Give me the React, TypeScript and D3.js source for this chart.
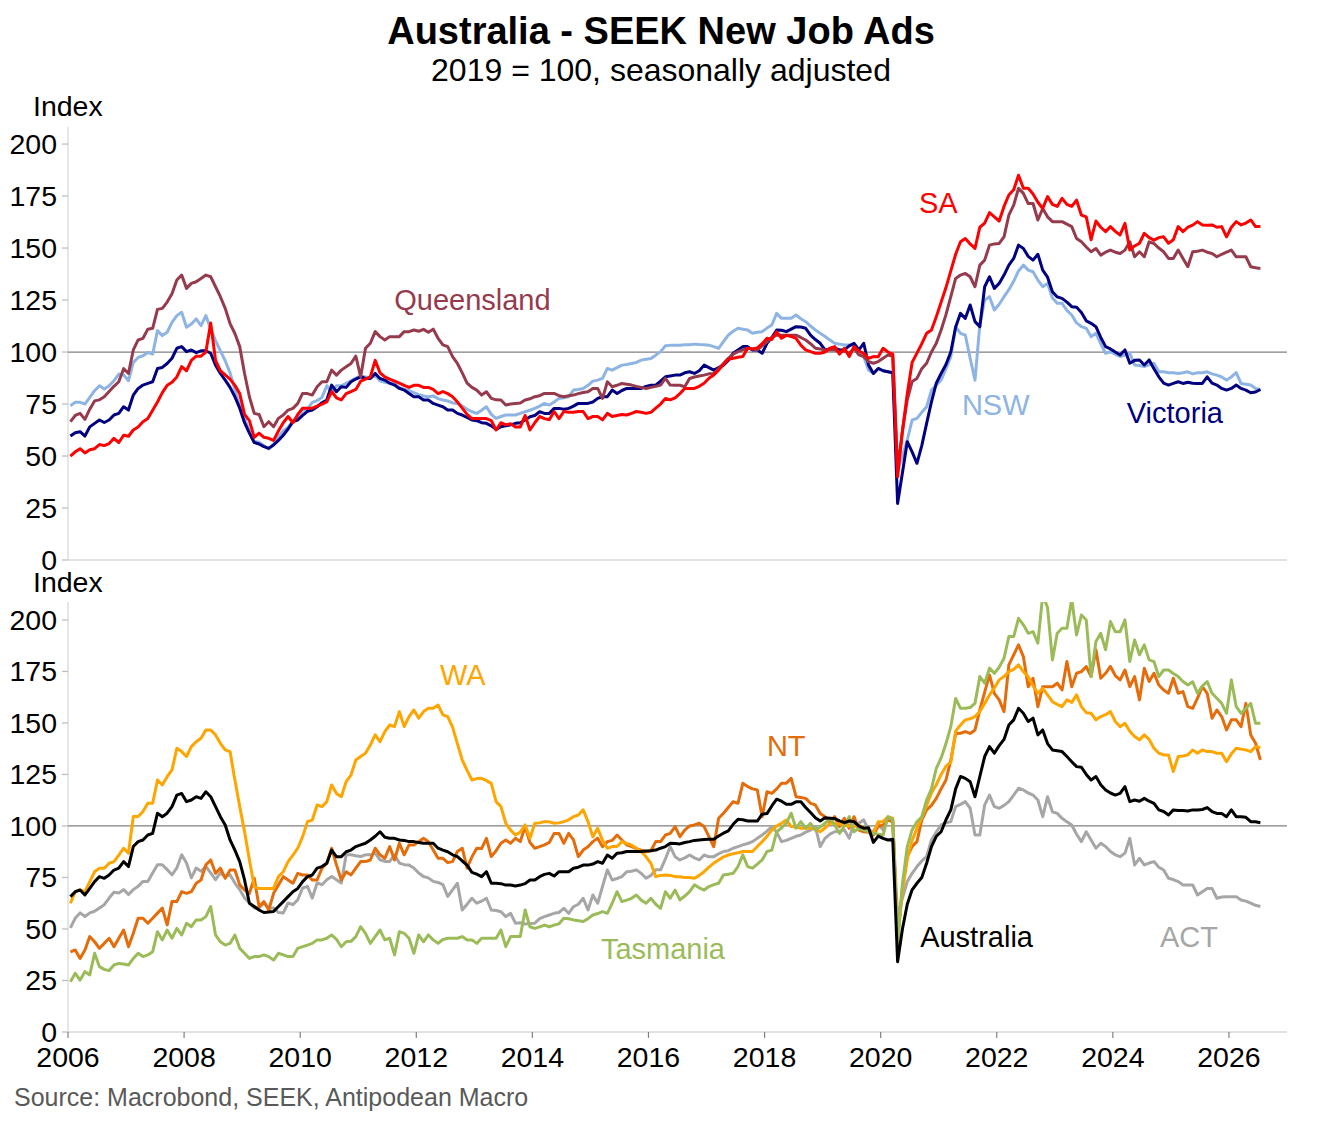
import React from 'react';
import * as d3 from 'd3';

// monthly values, Jan 2006 .. Jul 2026 (index 2019 = 100, s.a.)
const sa = [
  50, 52, 53.5, 51.5, 53, 53.5, 55.5, 55, 56, 58.5, 56.5, 60,
  59.5, 62.5, 64, 66.5, 68, 72, 76, 80.5, 84, 85.5, 88, 93,
  91, 96, 98, 98, 100, 114, 96, 91, 89, 87, 84, 80,
  70, 67, 59, 61, 59, 58.5, 57.5, 62, 66, 69, 66, 70,
  73, 73, 73, 74, 75, 76, 81, 78, 77, 80, 81, 82,
  86, 87, 88, 96, 90, 88, 87, 86, 85, 84, 83, 84,
  84, 83, 83, 82, 80, 81, 80, 78.5, 76, 73, 70, 68,
  68, 68, 68, 67, 62.5, 66, 65, 65.5, 64, 64, 69.5, 62.5,
  66, 69, 68, 67.4, 71.4, 68, 71.4, 71, 71, 71.4, 71.4, 68,
  69, 69, 67.4, 70.5, 69, 69.5, 70, 69.7, 70.5, 71.4, 71, 70.5,
  71, 73, 75, 77.7, 77, 78, 80, 82.5, 82.5, 82.5, 83.5, 85,
  87.4, 89, 91.3, 94, 96.5, 97, 97.5, 97.8, 101.8, 101.5, 102, 104,
  106.6, 106, 109.7, 106.6, 108, 107.5, 106.6, 103.3, 101, 100.2, 99.4, 99.4,
  100, 101.8, 102.6, 99, 101.8, 97.8, 102.6, 100.5, 99.4, 97, 97.8, 97.7,
  101.8, 100, 99, 40, 62, 80, 95, 99.5, 104, 109, 110.6, 117,
  124, 131, 139, 147, 153, 154.6, 152, 149.8, 160, 162, 167, 165,
  163, 170, 175.5, 178, 185, 178.7, 178.7, 176, 172, 169, 174.7, 171,
  170, 173.9, 171, 170, 173, 165.8, 165, 154, 163, 160, 157.9, 160.3,
  158, 156.3, 161.9, 149.1, 151, 152.3, 157.1, 155, 153.8, 155, 155.4, 152.3,
  154, 160.3, 157.9, 160, 161, 162.7, 161.1, 161, 161.1, 160, 160.3, 155.4,
  160, 162.7, 161.1, 162, 163.5, 160.3, 160.3,
];

const queensland = [
  66.5, 69.5, 70.5, 67.6, 72.5, 76.5, 77, 78.5, 81, 83.5, 85.7, 92,
  89.7, 101, 105.8, 106.6, 111, 111.4, 120.5, 121, 124, 128, 134.6, 137,
  130.6, 133, 133.8, 135.4, 137, 136.2, 131.4, 126.6, 121, 113.7, 108.9, 102.6,
  89.7, 78.5, 70.5, 70, 64.1, 66.5, 64.1, 68.1, 69.7, 72.1, 72.9, 75.3,
  80.1, 80, 79.3, 83.3, 85.7, 85.7, 91.3, 88.9, 91.3, 92.9, 94.5, 98,
  88.1, 101.8, 104.2, 109.8, 107.4, 105.8, 107.4, 107.4, 107.4, 109.8, 109.8, 110.6,
  110, 110.9, 109.5, 111, 106.6, 103.4, 102.6, 97.8, 94.5, 90, 85, 83,
  81.7, 79.3, 80.9, 77.7, 77, 76.9, 74.5, 75, 75.3, 75.5, 76.9, 77.5,
  78.5, 79, 80.1, 80, 80.1, 79, 78.5, 79, 79.3, 80, 80.5, 80.9,
  82.5, 82.5, 77.7, 85.7, 83.3, 84, 84.9, 84.5, 84.1, 83.5, 83, 82.5,
  83, 83.5, 84.1, 87.3, 84.1, 84, 84, 83.3, 87.3, 88, 88.5, 88.9,
  89.5, 89.7, 92, 94.5, 97, 99, 100.2, 101, 101.8, 101.5, 101, 103,
  104.9, 107, 108.1, 108.1, 108.1, 108.1, 108.1, 107, 105.8, 104, 101.8, 101.5,
  101, 101, 101, 100, 100.5, 99.4, 101.7, 98.6, 97.8, 95.4, 94.6, 95.4,
  97, 98.6, 98, 44, 62, 77, 85.8, 87.3, 92, 94.6, 100, 104.2,
  110.6, 118, 126.6, 135.4, 137, 137.8, 136.2, 131.4, 141.8, 144.2, 151.4, 152,
  152.2, 155.4, 165.8, 170.6, 178.7, 176.3, 171.4, 171.4, 163.5, 169, 165, 162.7,
  162.7, 162.7, 161.5, 160.3, 154.6, 153, 150.5, 148.2, 149.8, 146.6, 148, 149,
  148, 147.4, 149, 153, 145.8, 148.2, 145.8, 153, 152.2, 150, 148.2, 145,
  145, 149, 145, 141, 148.2, 148.5, 149, 148, 147.4, 145.8, 147, 148,
  149, 145.8, 145.8, 145.8, 141, 140.5, 140.2,
];

const victoria = [
  59.6, 61.2, 61.7, 59.6, 64, 65.7, 67.3, 66.1, 67.3, 69.7, 70.5, 73.7,
  72.1, 79.3, 82.5, 84.1, 84.9, 85.7, 92.1, 92.6, 94.5, 97, 101.8, 102.6,
  100.2, 101, 99.7, 100.6, 100.6, 99.4, 93.7, 89.7, 86.5, 83, 78.5, 73,
  66, 61, 56.5, 55.8, 54.5, 53.7, 55.3, 57.5, 60, 63, 66.5, 67.3,
  69.5, 71.5, 72.1, 73.7, 75.6, 76.9, 84.1, 80.9, 83.3, 83, 85.7, 87,
  88.1, 87.3, 87.3, 89.7, 87.3, 86.5, 85, 84.1, 82.5, 81.7, 80.1, 78.5,
  78.5, 76.9, 76.9, 75.3, 74.5, 73.7, 72.1, 72.1, 70.5, 69.7, 68.5, 67.3,
  67, 66, 65.7, 64.5, 62.8, 64.1, 64.5, 65, 65.7, 66, 67.3, 68.9,
  69.5, 71.3, 70.5, 70.5, 72.9, 72.9, 72.5, 72.9, 74, 75.3, 75.3, 75.3,
  76, 77.7, 78.5, 78.5, 81.7, 80.1, 81.5, 82.5, 82.5, 82.5, 82.5, 83.5,
  84, 84.1, 86, 88.1, 88.5, 88.9, 88.9, 90, 90.5, 89.7, 91, 93.7,
  92.5, 91.3, 92.5, 93.7, 96, 99.4, 101, 102.6, 102.6, 101, 101, 99.4,
  104.2, 107, 110.6, 110.5, 109.8, 111, 112.2, 112, 111.4, 108.1, 106, 104.2,
  101, 101.5, 101.8, 101, 101, 103, 104.2, 101, 104.2, 93.7, 89.7, 92.1,
  91, 90.5, 90, 27.2, 42, 56.9, 52, 46.5, 55, 65.7, 76, 85,
  89.7, 94, 100, 112, 118.6, 116.2, 122.6, 114.6, 112.2, 131.4, 136.2, 130.6,
  133, 137, 141.8, 145, 151.4, 149.8, 146, 144.2, 147, 139.4, 136, 129,
  126.5, 125.8, 124, 121.8, 121.5, 119, 115, 113.8, 112.2, 107, 102.6, 101.5,
  100, 98.6, 101, 94.6, 96, 96.2, 93.8, 96.2, 92, 88.1, 85, 84.1,
  84.9, 85.7, 84.9, 85.5, 85, 84.9, 84.9, 88.1, 85, 84.1, 82.5, 81.7,
  82.5, 84.1, 82.5, 81.7, 80.4, 80.8, 82,
];

const nsw = [
  74.2, 75.8, 75.8, 75, 78.2, 81.4, 83.8, 82.2, 83.8, 86.2, 89.4, 89,
  86.2, 95, 97.4, 98.2, 99.8, 99, 110.3, 107.9, 109.5, 114.3, 117.5, 119.1,
  111.9, 113.5, 115.9, 112.7, 117.5, 111.1, 105.5, 100.6, 95.8, 90, 82, 74,
  68, 62, 57, 56.6, 55, 53.4, 55.8, 59, 62.2, 63.8, 67, 68.6,
  71.8, 72.6, 75.8, 76.6, 78.2, 83.8, 80.6, 83.8, 83.8, 85, 86.2, 87.5,
  88.6, 88, 87.8, 88.6, 86.2, 85.4, 85, 84.6, 83, 82.2, 81.4, 80.5,
  79.5, 78.9, 78.5, 78.9, 77.6, 76.9, 76.5, 75.5, 75.3, 74, 72.5, 71.3,
  70.5, 72, 73.7, 70, 68.1, 69, 69.7, 69.7, 69.7, 70.5, 71.3, 72,
  72.9, 74, 75.3, 74.5, 76, 77.7, 78, 78.5, 81.7, 82, 82.5, 84,
  86, 86.5, 87.3, 92.1, 91.3, 92.5, 93.7, 94, 94.5, 95, 96.1, 96.5,
  96.9, 98.5, 100.2, 103, 103.2, 103.3, 103.3, 103.5, 103.5, 103.8, 103.6, 103.5,
  103.3, 102.6, 101.8, 105, 108.1, 110, 111.4, 111, 110.6, 109, 109.5, 109.8,
  111.5, 113, 118.6, 116.2, 116.2, 116.2, 117.8, 116, 114.6, 112.5, 110.6, 109,
  107.5, 105.8, 104.2, 103.8, 103.4, 103.4, 102.6, 100.2, 97.8, 91.3, 89.7, 92.1,
  91, 90.5, 90, 43, 50, 57.7, 67.3, 68.1, 71, 73.7, 81.7, 84,
  86.5, 92, 97.8, 112.2, 109, 108.1, 97, 86.5, 113, 125, 126.6, 120.2,
  123, 126.6, 130, 134, 139, 141.8, 139.4, 138.6, 134.6, 131.4, 133, 126,
  123.4, 123.4, 120, 117.8, 114, 112.2, 111.4, 107.4, 109, 104, 99.4, 100.2,
  99, 97.8, 98.5, 99.4, 93.8, 93.5, 93, 93.8, 94.6, 90.5, 90.5, 90,
  90, 89.7, 90, 90.5, 89.5, 90, 90, 90.5, 89.5, 88.9, 88, 86.5,
  88, 90.1, 84.9, 84.5, 84.1, 82.5, 82,
];

const wa = [
  62.5, 68.1, 68.9, 68.1, 73, 77.8, 79.5, 79.5, 81.9, 82.7, 85.9, 89.2,
  86.8, 104.6, 104.6, 107, 111, 111, 122.3, 119.9, 123.9, 127.2, 137.7, 136.1,
  133.7, 138.5, 140.9, 142.6, 146.6, 146.6, 144.2, 140.1, 136.9, 136.1, 122.3, 109.4,
  97.2, 83.5, 70.6, 69.7, 69.7, 69.7, 69.7, 75.4, 77.8, 82.7, 85.9, 89.2,
  94.8, 102.1, 102.9, 110.2, 109.4, 111.8, 119.9, 115.8, 114.2, 121.5, 124.7, 132,
  133.7, 135.3, 139.3, 144.2, 140.9, 145.8, 149, 148.2, 155.5, 148.2, 153.1, 156.3,
  152.3, 155.5, 157.1, 157.1, 158.7, 153.9, 153.1, 148, 140, 132, 127, 122.3,
  123, 123.1, 122, 120.7, 111.8, 109.4, 101.3, 98, 95.6, 97, 100.5, 94,
  101.3, 101.5, 102.1, 102, 101.3, 101.5, 102.1, 103, 104.5, 105.3, 107.8, 102.1,
  94.8, 98.9, 93, 89.2, 90, 90, 92.4, 91.5, 90.8, 89.2, 87.6, 85,
  81.9, 75.4, 76, 76.2, 76, 75.4, 75.4, 75, 75, 74.6, 76, 77.8,
  80, 82, 83.5, 85, 85.9, 86.5, 87, 87.6, 87.6, 87.6, 90, 92.4,
  95, 98, 100, 101.3, 102.9, 99.7, 99.5, 98.9, 99, 98.9, 98.5, 97.2,
  99, 101.3, 101.3, 101, 100.5, 100, 99.7, 100.5, 99, 97, 96.4, 102,
  102.1, 104.5, 103.7, 45, 68, 84, 93, 98.9, 104, 110, 116, 120,
  125, 129, 131, 146, 149, 151.5, 152, 153.1, 155.5, 159.5, 163.6, 167,
  170.9, 172.5, 174.9, 176, 178.2, 174.9, 172.5, 168, 164.4, 166.8, 163.6, 160.3,
  159, 157.9, 161.2, 160, 163.6, 157.9, 155, 154.7, 151.5, 153.1, 154, 155.5,
  150.7, 148.2, 149.8, 146, 143.4, 141.8, 144.2, 142, 137.7, 135.3, 134.5, 134.5,
  126.4, 133.7, 134, 134.5, 136.9, 135.3, 136.9, 136.1, 136.1, 135.3, 135.3, 131.2,
  135, 137.7, 137.3, 136.9, 136.1, 138.5, 138,
];

const nt = [
  38.9, 39.8, 35.7, 39.8, 46.3, 43.8, 40.6, 43, 45.5, 41.4, 45.5, 49.5,
  41.4, 47.9, 55.2, 55.2, 52.8, 55.2, 57.7, 60.1, 52, 63.3, 63.3, 68.1,
  67.3, 68.1, 72.2, 73.8, 81.1, 83.5, 77, 79.5, 74.6, 78.6, 78.6, 71.4,
  68.9, 67.3, 74.6, 60.9, 63.3, 59.2, 67.3, 71.4, 75.4, 73.8, 72.2, 77,
  76.2, 76.2, 73.8, 73.8, 79.5, 81.9, 89.2, 81.1, 73.8, 77.8, 76.2, 79.5,
  82.7, 82.7, 83.5, 89.2, 86, 84.3, 90, 83.5, 91.6, 86, 90.8, 90.8,
  92.4, 94, 92.4, 88.3, 84.3, 84.3, 82.2, 82.7, 87.6, 89.2, 79.5, 85,
  89.2, 89, 94, 85.1, 88, 91.6, 93.2, 91.6, 94, 92.4, 99.7, 92,
  89.2, 90, 90.8, 92, 96.4, 96.4, 91.6, 96.4, 93.2, 85.1, 88.3, 89.9,
  92.4, 94, 89.9, 92.4, 93, 95.6, 93.2, 90.8, 90, 89, 88.3, 87.5,
  88, 92.4, 92.4, 95.6, 96.4, 99.7, 94.8, 98, 100, 100.5, 101.3, 99.7,
  94.8, 89.9, 103.7, 106.2, 109, 111.8, 111, 120.7, 119.1, 118, 117.5, 104.5,
  116.6, 115.8, 118, 120.7, 120.7, 123.1, 114.2, 113.8, 113.4, 111, 110.2, 106,
  104.5, 101.3, 104.5, 99.7, 103.7, 98.9, 104.5, 98, 97.2, 97, 95.6, 99.7,
  100.5, 102.9, 102, 45, 70, 85.1, 90, 92.4, 102.9, 107.8, 110, 113.4,
  118, 122.3, 132, 144.9, 145, 145.8, 144.9, 146.6, 156.3, 165, 173.3, 164.4,
  161.2, 155.5, 178.2, 183, 187.9, 182.2, 167.6, 171.7, 157.9, 167.6, 167.6, 167.6,
  169.3, 166, 179.8, 167.6, 174.1, 174.9, 177.4, 172.5, 185.5, 171.7, 174.1, 177.4,
  173, 170.9, 175.7, 167.6, 172.5, 161.2, 176.6, 170.1, 174.1, 168.4, 166, 164.4,
  171.7, 164.4, 165.2, 157.9, 157.1, 162, 167.6, 164.4, 152.3, 156.3, 153.1, 146.6,
  151.5, 151.5, 148.2, 159.5, 144.2, 140.1, 132,
];

const act = [
  50.5, 55.3, 57.8, 56.1, 57.8, 58.6, 60.2, 61.8, 65, 67.8, 67.5, 69.1,
  66.7, 69.1, 70.7, 73.1, 73.1, 77.2, 81.2, 81.2, 78.8, 76.3, 79.6, 86,
  82, 74.8, 79.6, 78, 80.4, 77.2, 73.9, 77.2, 75.5, 76.3, 72.3, 69.1,
  65, 62.6, 60.2, 60.2, 62.6, 60.2, 60.2, 58, 57.8, 62.6, 61.8, 64.2,
  69.9, 70.7, 65, 72.3, 71.5, 73.9, 75.5, 73.9, 72.3, 86, 86, 85.5,
  85.2, 86, 86, 86.8, 83.6, 82.8, 82.8, 86, 82, 81.2, 81, 79.6,
  77.2, 75.5, 74.8, 73.1, 72.6, 71.5, 65.8, 69, 72.2, 59.2, 62, 64.9,
  62.5, 63.5, 64.9, 59.2, 59, 58.4, 56, 57.6, 52.8, 53, 52.4, 52.6,
  52.8, 55, 56, 56.8, 57.6, 58, 60, 57.6, 60.8, 62, 64.9, 59.2,
  66.5, 62.5, 70.6, 78.7, 73.8, 74.5, 75.4, 77.8, 78, 78.7, 77, 74.6,
  76, 78.7, 78.7, 84, 90, 85.1, 83.5, 84.5, 85.9, 84.5, 83.5, 85.9,
  85, 85.1, 86.5, 87.6, 88, 89.2, 90, 90.8, 91.5, 92.4, 94, 95.6,
  97.5, 99.7, 97, 92.4, 93, 94, 95, 95.6, 97, 98, 99.7, 90,
  94, 96, 97.2, 97.5, 98, 94, 101.3, 101.3, 103, 98, 97.2, 101.3,
  98, 103.7, 102, 56, 65, 73, 77, 80.3, 83, 85.1, 93.2, 97,
  100.5, 101.5, 102.1, 109.4, 110.5, 111.8, 108.6, 95.6, 95.6, 110.2, 115, 109.4,
  108.6, 110, 111.8, 115, 118.3, 117.5, 116, 115, 112.6, 104.5, 114.2, 106.9,
  106.1, 103.7, 102, 100.5, 96, 92.4, 97.2, 93.2, 89.2, 91.6, 90, 87.6,
  86, 85.1, 86.8, 94, 81.1, 84.3, 81.1, 82, 82.7, 80, 78.6, 74.6,
  74, 73, 71.4, 71.4, 71.4, 66.5, 68.1, 69.7, 69.7, 64.9, 65.5, 65.7,
  65.7, 65.7, 64.1, 63.5, 62.5, 61.5, 60.9,
];

const tasmania = [
  24.4, 28.5, 25.2, 29.3, 27.7, 38.2, 31.7, 30.4, 29.8, 32.5, 33.3, 33,
  32.5, 35.7, 38.2, 36.6, 37.4, 39, 48.7, 44.7, 49.5, 45.5, 50.3, 47.1,
  52.8, 51.1, 54.4, 54.4, 56, 60.9, 47.1, 43.8, 42.2, 43, 47.1, 40.6,
  38.2, 35.7, 36.6, 36.6, 37.4, 36.6, 34.9, 38.2, 37.4, 36.6, 36.6, 40.6,
  41.4, 42.2, 43, 44.7, 44.7, 45.5, 47.1, 45, 41.4, 43.8, 44, 46.3,
  51.1, 47.9, 43, 46.3, 49.5, 44.7, 45.5, 37.4, 48.7, 47.9, 45.5, 38.2,
  47.1, 43.8, 47.1, 44.7, 43, 44.9, 45.5, 45.5, 45.5, 46.3, 44.7, 44.7,
  43, 45.5, 45.5, 45.5, 45.5, 49.5, 41.4, 46.3, 46.3, 46.3, 59.2, 51.1,
  50.3, 51, 51.9, 51.1, 51.9, 52.5, 55.2, 55, 54.4, 54, 53.6, 55,
  56.8, 57.5, 58.4, 57.6, 62.5, 68.1, 63.3, 64, 64.9, 66.5, 64, 62.5,
  64.9, 62, 60, 68.1, 64.9, 68.9, 64.1, 66, 68.1, 71.4, 70, 68.9,
  70.6, 71.5, 72.2, 76.2, 76.6, 77, 80.3, 86, 80.3, 79.5, 81.5, 83.5,
  87.6, 88.3, 97.2, 99, 101.3, 106.2, 98.9, 102.1, 98.9, 101.3, 98, 99.5,
  101.3, 103.7, 100.5, 96.4, 100, 104.5, 97.2, 98.9, 98, 97.2, 96.4, 96,
  95.6, 104.5, 103, 43, 72, 90, 98.1, 102, 104.5, 112.6, 118, 128,
  133, 140, 148.2, 161.9, 157.1, 157.1, 157.5, 159.5, 172.5, 169.3, 176.6, 174.1,
  177, 181.4, 191.9, 191.9, 200.8, 197.6, 193.5, 194.3, 188.7, 212, 206, 180.6,
  193.5, 196, 196, 210, 192.7, 202.4, 200, 172.5, 189.5, 193.5, 185.5, 199.2,
  194.3, 194.3, 200, 179.8, 190.3, 183.1, 187.9, 180.6, 179.8, 172.5, 175.7, 175.7,
  174, 172.5, 170.1, 168.4, 170, 164.4, 168, 170.1, 164.4, 162, 159.5, 154.7,
  170.9, 157.9, 154.7, 157, 159.5, 149.8, 149.8,
];

const australia = [
  65.7, 68.1, 68.9, 66.5, 69.7, 73, 75.4, 74.6, 76.2, 78.6, 79.5, 82.7,
  80.3, 90, 92.4, 93.2, 95.6, 96.4, 106.2, 104.5, 106.2, 109.4, 115, 115.8,
  111.8, 112.6, 114.2, 113.4, 116.6, 114.2, 109.4, 104.5, 100.5, 93.2, 88.3, 82.7,
  73.8, 62.5, 60.9, 59.2, 58, 58.2, 58.5, 60.9, 63.3, 65.7, 68.1, 69.7,
  73, 75.4, 76.2, 79.5, 80.3, 81.9, 88.3, 85.1, 85.1, 87.5, 88.3, 90,
  90.8, 91.6, 93.2, 95, 97.2, 94.5, 94, 94, 93.2, 93, 92.4, 92.4,
  92, 91.6, 91.6, 91.6, 89.2, 88.3, 87.5, 86, 85.1, 83, 81, 77.5,
  76.6, 75.4, 77.8, 72.2, 72.2, 72, 71.3, 71.3, 70.9, 71.3, 72, 73.8,
  73.8, 75.4, 76.5, 77, 75.7, 77.8, 77.8, 77.8, 79.5, 80, 81, 81,
  81.5, 82.7, 81.9, 85.9, 84.3, 86.8, 87, 87.6, 87.6, 87.6, 87.6, 87.8,
  88, 88.3, 89.2, 90, 91.6, 91.5, 91.3, 92, 92.4, 93, 93.2, 93.4,
  93.6, 93.6, 95.1, 96.5, 97.6, 100.8, 103.2, 103, 102.4, 102.4, 102.4, 105.7,
  106, 109.7, 113, 112, 110.5, 110.5, 111.7, 111.7, 109, 106.5, 104, 102.4,
  104, 103.8, 103.6, 102.5, 101.6, 102.4, 102.1, 99.9, 98.9, 99.1, 92, 95.1,
  94, 93.2, 93.5, 34.1, 50, 62, 69, 72.2, 75, 81.9, 90, 95,
  97.2, 103, 107.8, 118, 124, 123.1, 121.5, 114.2, 124, 133.7, 138.5, 135.3,
  139, 142, 149, 151.5, 157.1, 154.7, 150.7, 152.3, 144.2, 146.6, 140, 136.9,
  136.5, 136.1, 133.7, 131.2, 128.8, 128.5, 125, 122.3, 124, 120, 117.5, 116,
  115, 115.8, 119.1, 111.8, 112.6, 112, 113.4, 112, 111, 107.8, 107, 105.3,
  107.8, 107.5, 107.5, 107.3, 107.8, 107.8, 108, 108.9, 107, 106.1, 106, 104.5,
  107.8, 104.5, 104.5, 104.2, 102.1, 102, 101.6,
];

const yTickValues = [0, 25, 50, 75, 100, 125, 150, 175, 200];
const xTickYears = [2006, 2008, 2010, 2012, 2014, 2016, 2018, 2020, 2022, 2024, 2026];

const FONT = '"Liberation Sans", Arial, Helvetica, sans-serif';

const x = d3.scaleLinear().domain([2006, 2027]).range([68, 1287]);
const yTop = d3.scaleLinear().domain([0, 208.2]).range([560, 127]);
const yBot = d3.scaleLinear().domain([0, 208.7]).range([1032, 602]);
const monthYear = (i: number) => 2006 + (i + 0.5) / 12;

const topSeries = [
  { key: 'nsw', values: nsw, color: '#8DB4E2' },
  { key: 'vic', values: victoria, color: '#000080' },
  { key: 'qld', values: queensland, color: '#953B4D' },
  { key: 'sa', values: sa, color: '#FF0000' },
];
const botSeries = [
  { key: 'act', values: act, color: '#A6A6A6' },
  { key: 'nt', values: nt, color: '#E46C0A' },
  { key: 'wa', values: wa, color: '#FFA500' },
  { key: 'tas', values: tasmania, color: '#9BBB59' },
  { key: 'aus', values: australia, color: '#000000' },
];

// label anchors in data units (year, index value)
const topLabels = [
  { text: 'SA', year: 2020.66, value: 166.8, color: '#FF0000' },
  { text: 'Queensland', year: 2011.62, value: 120.2, color: '#953B4D' },
  { text: 'NSW', year: 2021.4, value: 69.7, color: '#8DB4E2' },
  { text: 'Victoria', year: 2024.24, value: 65.9, color: '#000080' },
];
const botLabels = [
  { text: 'WA', year: 2012.41, value: 168.4, color: '#FFA500' },
  { text: 'NT', year: 2018.04, value: 134, color: '#E46C0A' },
  { text: 'Tasmania', year: 2015.18, value: 35.4, color: '#9BBB59' },
  { text: 'Australia', year: 2020.68, value: 41.3, color: '#000000' },
  { text: 'ACT', year: 2024.81, value: 41.3, color: '#A6A6A6' },
];

const Panel = ({ y, series, labels, id, showX }: any) => {
  const [y0, y1] = y.range();
  const line = d3
    .line<number>()
    .x((_, i) => x(monthYear(i)))
    .y((d) => y(d));
  return (
    <g>
      <defs>
        <clipPath id={id}>
          <rect x={x(2006)} y={y1} width={x(2027) - x(2006)} height={y0 - y1} />
        </clipPath>
      </defs>
      <line x1={x(2006)} x2={x(2006)} y1={y1} y2={y0} stroke="#D9D9D9" strokeWidth={1.3} />
      <line x1={x(2006)} x2={x(2027)} y1={y0} y2={y0} stroke="#D9D9D9" strokeWidth={1.3} />
      {yTickValues.map((t) => (
        <g key={t}>
          <line x1={x(2006) - 6} x2={x(2006)} y1={y(t)} y2={y(t)} stroke="#BFBFBF" strokeWidth={1.3} />
          <text x={57} y={y(t) + 10} textAnchor="end" fontSize={28.5} fontFamily={FONT} fill="#000">
            {t}
          </text>
        </g>
      ))}
      <line x1={x(2006)} x2={x(2027)} y1={y(100)} y2={y(100)} stroke="#808080" strokeWidth={1.2} />
      <g clipPath={`url(#${id})`}>
        {series.map((s: any) => (
          <path
            key={s.key}
            d={line(s.values) || ''}
            fill="none"
            stroke={s.color}
            strokeWidth={3}
            strokeLinejoin="round"
          />
        ))}
      </g>
      {labels.map((l: any) => (
        <text key={l.text} x={x(l.year)} y={y(l.value)} fontSize={29} fontFamily={FONT} fill={l.color}>
          {l.text}
        </text>
      ))}
      {showX &&
        xTickYears.map((yr) => (
          <g key={yr}>
            <line x1={x(yr)} x2={x(yr)} y1={y0} y2={y0 + 6} stroke="#808080" strokeWidth={1.2} />
            <text x={x(yr)} y={y0 + 35} textAnchor="middle" fontSize={28.5} fontFamily={FONT} fill="#000">
              {yr}
            </text>
          </g>
        ))}
    </g>
  );
};

export default function App() {
  return (
    <svg
      width={1323}
      height={1122}
      style={{ position: 'absolute', left: 0, top: 0, background: '#fff' }}
    >
      <rect width={1323} height={1122} fill="#fff" />
      <text x={661} y={44} textAnchor="middle" fontSize={38} fontWeight="bold" fontFamily={FONT}>
        Australia - SEEK New Job Ads
      </text>
      <text x={661} y={81} textAnchor="middle" fontSize={32} fontFamily={FONT}>
        2019 = 100, seasonally adjusted
      </text>
      <text x={33} y={116} fontSize={28.5} fontFamily={FONT}>
        Index
      </text>
      <text x={33} y={592} fontSize={28.5} fontFamily={FONT}>
        Index
      </text>
      <Panel y={yTop} series={topSeries} labels={topLabels} id="clipTop" showX={false} />
      <Panel y={yBot} series={botSeries} labels={botLabels} id="clipBot" showX={true} />
      <text x={14} y={1106} fontSize={25} fontFamily={FONT} fill="#595959">
        Source: Macrobond, SEEK, Antipodean Macro
      </text>
    </svg>
  );
}
